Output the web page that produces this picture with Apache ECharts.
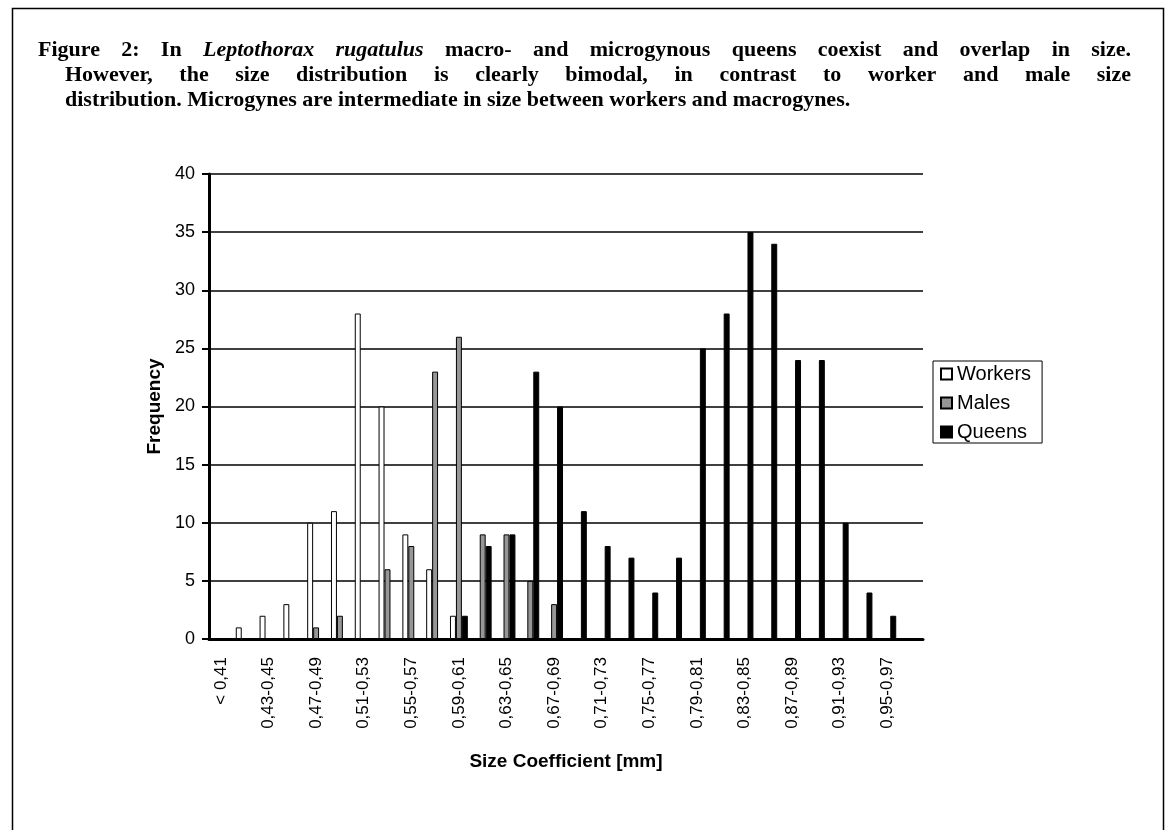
<!DOCTYPE html>
<html>
<head>
<meta charset="utf-8">
<script src="https://cdn.jsdelivr.net/npm/echarts@6.0.0/dist/echarts.min.js"></script>
<style>
  html, body { margin: 0; padding: 0; background: #fff; }
  #main { width: 1166px; height: 830px; }
</style>
</head>
<body>
<div id="main"></div>
<script>
// size classes, one per bar group
var categories = [
  "< 0,41", "0,41-0,43", "0,43-0,45", "0,45-0,47", "0,47-0,49", "0,49-0,51",
  "0,51-0,53", "0,53-0,55", "0,55-0,57", "0,57-0,59", "0,59-0,61", "0,61-0,63",
  "0,63-0,65", "0,65-0,67", "0,67-0,69", "0,69-0,71", "0,71-0,73", "0,73-0,75",
  "0,75-0,77", "0,77-0,79", "0,79-0,81", "0,81-0,83", "0,83-0,85", "0,85-0,87",
  "0,87-0,89", "0,89-0,91", "0,91-0,93", "0,93-0,95", "0,95-0,97", "0,97-0,99"
];
var workers = [0, 1, 2, 3, 10, 11, 28, 20, 9, 6, 2, 0, 0, 0, 0, 0, 0, 0, 0, 0, 0, 0, 0, 0, 0, 0, 0, 0, 0, 0];
var males   = [0, 0, 0, 0, 1, 2, 0, 6, 8, 23, 26, 9, 9, 5, 3, 0, 0, 0, 0, 0, 0, 0, 0, 0, 0, 0, 0, 0, 0, 0];
var queens  = [0, 0, 0, 0, 0, 0, 0, 0, 0, 0, 2, 8, 9, 23, 20, 11, 8, 7, 4, 7, 25, 28, 35, 34, 24, 24, 10, 4, 2, 0];

var captionLines = [
  "Figure 2: In Leptothorax rugatulus macro- and microgynous queens coexist and overlap in size.",
  "However, the size distribution is clearly bimodal, in contrast to worker and male size",
  "distribution. Microgynes are intermediate in size between workers and macrogynes."
];
var italicWords = ["Leptothorax", "rugatulus"];

var chartDom = document.getElementById("main");
var myChart = echarts.init(chartDom);
var option;

// caption: justified lines, hanging indent, built word by word
var capFont = '"Liberation Serif", "Times New Roman", serif';
var capSize = 22;
var ctx = document.createElement("canvas").getContext("2d");
function fontFor(word) {
  var it = italicWords.indexOf(word) >= 0;
  return (it ? "italic " : "") + "bold " + capSize + "px " + capFont;
}
var capLayout = [
  { left: 38, right: 1131, y: 50, justify: true },
  { left: 65, right: 1131, y: 75, justify: true },
  { left: 65, right: 1131, y: 100, justify: false }
];
var graphics = [];
captionLines.forEach(function (line, li) {
  var lay = capLayout[li];
  var words = line.split(" ");
  var widths = words.map(function (w) {
    ctx.font = fontFor(w);
    return ctx.measureText(w).width;
  });
  ctx.font = fontFor("x");
  var space = ctx.measureText(" ").width;
  if (lay.justify) {
    var total = widths.reduce(function (a, b) { return a + b; }, 0);
    space = (lay.right - lay.left - total) / (words.length - 1);
  }
  var x = lay.left;
  words.forEach(function (w, i) {
    graphics.push({
      type: "text",
      left: x,
      top: lay.y - capSize / 2,
      style: { text: w, font: fontFor(w), fill: "#000" }
    });
    x += widths[i] + space;
  });
});
// outer frame
graphics.push({
  type: "rect",
  shape: { x: 12.5, y: 8.5, width: 1151, height: 900 },
  style: { fill: null, stroke: "#000", lineWidth: 1.5 },
  silent: true
});

option = {
  backgroundColor: "#fff",
  animation: false,
  textStyle: { fontFamily: "Arial, 'Liberation Sans', sans-serif", color: "#000" },
  graphic: graphics,
  grid: { left: 209, right: 243, top: 174, bottom: 191 },
  legend: {
    orient: "vertical",
    left: 933,
    top: 361,
    padding: [3, 11, 1, 7],
    itemGap: 9,
    itemWidth: 11,
    itemHeight: 11,
    borderColor: "#000",
    borderWidth: 1,
    borderRadius: 0,
    icon: "rect",
    textStyle: { fontSize: 20, color: "#000", lineHeight: 20 },
    data: ["Workers", "Males", "Queens"]
  },
  xAxis: [
    {
      type: "category",
      data: categories,
      name: "Size Coefficient [mm]",
      nameLocation: "middle",
      nameGap: 113,
      nameTextStyle: { fontSize: 19, fontWeight: "bold", color: "#000", verticalAlign: "top" },
      axisLine: { lineStyle: { color: "#000", width: 3 } },
      axisTick: { length: 7, interval: 0, lineStyle: { color: "#000", width: 2 } },
      axisLabel: { interval: 1, rotate: 90, margin: 18, fontSize: 17, color: "#000" },
      splitLine: { show: false }
    },
    {
      type: "category",
      data: categories,
      position: "bottom",
      axisLine: { show: false },
      axisTick: { inside: true, length: 6, interval: 0, lineStyle: { color: "#000", width: 2 } },
      axisLabel: { show: false },
      splitLine: { show: false }
    }
  ],
  yAxis: {
    type: "value",
    min: 0,
    max: 40,
    interval: 5,
    name: "Frequency",
    nameLocation: "middle",
    nameRotate: 90,
    nameGap: 43,
    nameTextStyle: { fontSize: 19, fontWeight: "bold", color: "#000" },
    axisLine: { show: true, lineStyle: { color: "#000", width: 3 } },
    axisTick: { show: true, length: 7, lineStyle: { color: "#000", width: 2 } },
    axisLabel: { margin: 14, fontSize: 18, color: "#000" },
    splitLine: { lineStyle: { color: "#000", width: 1.5 } }
  },
  series: [
    {
      name: "Workers",
      type: "bar",
      data: workers,
      barGap: 0,
      barCategoryGap: "25%",
      itemStyle: { color: "#fff", borderColor: "#000", borderWidth: 1 }
    },
    {
      name: "Males",
      type: "bar",
      data: males,
      barGap: 0,
      barCategoryGap: "25%",
      itemStyle: { color: "#969696", borderColor: "#000", borderWidth: 1 }
    },
    {
      name: "Queens",
      type: "bar",
      data: queens,
      barGap: 0,
      barCategoryGap: "25%",
      itemStyle: { color: "#000", borderColor: "#000", borderWidth: 1 }
    }
  ]
};

option && myChart.setOption(option);
</script>
</body>
</html>
